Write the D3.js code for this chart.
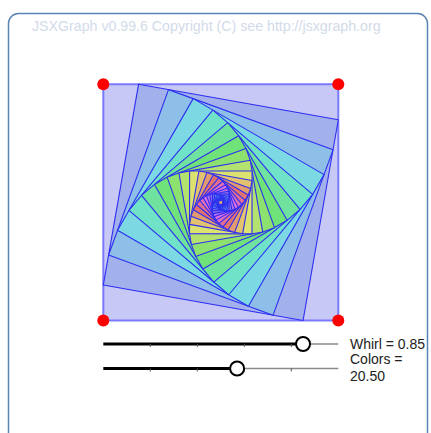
<!DOCTYPE html>
<html><head><meta charset="utf-8">
<script src="https://cdn.jsdelivr.net/npm/d3@7"></script>
<style>body{margin:0;background:#fff;}svg{display:block;}</style>
</head><body>
<svg id="c" width="431" height="433"></svg>
<script>
// ---- data ----
const corners = [[0,1],[1,1],[1,0],[0,0]];   // board coords of the four red points (TL, TR, BR, BL)
const sliderNames = ["Whirl", "Colors"];
const sliderValues = [0.85, 20.50];
const sliderMax = [1, 36];
const sliderTicks = [0.2, 0.4, 0.6, 0.8];
const levels = 28;           // number of nested polygons
const baseHue = [248];
const headerText = ["JSXGraph v0.99.6 Copyright (C) see http://jsxgraph.org"];

// ---- style ----
const lightness = [0.87, 0.78, 0.73, 0.69];  // first levels are paler, later 0.66

const svg = d3.select("#c");
const x = d3.scaleLinear().domain([0,1]).range([103.3, 338.3]);
const y = d3.scaleLinear().domain([0,1]).range([320.5, 84.3]);
const tf = "Liberation Sans, Arial, sans-serif";

// frame
svg.append("rect").attr("x",8.5).attr("y",13.5).attr("width",419).attr("height",440)
  .attr("rx",10).attr("fill","none").attr("stroke","#5b84b6").attr("stroke-width",1.5);
svg.append("text").attr("x",32).attr("y",30.5).text(headerText[0])
  .attr("font-family",tf).attr("font-size",14.2).attr("fill","#d2dbea");

// construction
const whirl = sliderValues[0], colStep = sliderValues[1];
let polys = [corners];
for (let i=1;i<=levels;i++){
  const p = polys[i-1];
  polys.push(p.map((v,j)=>{const n=p[(j+1)%4];return [v[0]+(1-whirl)*(n[0]-v[0]), v[1]+(1-whirl)*(n[1]-v[1])];}));
}
const line = d3.line().x(d=>x(d[0])).y(d=>y(d[1])).curve(d3.curveLinearClosed);
const fillFor = i => {
  if (i===0) return "#c8c8f6";
  let h = ((baseHue[0] - colStep*i) % 360 + 360) % 360;
  const L = i < lightness.length ? lightness[i] : 0.66;
  return d3.hsl(h, 0.66, L).formatHex();
};
svg.append("g").selectAll("path").data(polys).join("path")
  .attr("d", line)
  .attr("fill",(d,i)=>fillFor(i))
  .attr("stroke",(d,i)=>i===0?"#7a7aff":"#2d2df2")
  .attr("stroke-width",(d,i)=>i===0?2:1.1)
  .attr("stroke-linejoin","round");

// red points
svg.append("g").selectAll("circle").data(corners).join("circle")
  .attr("cx",d=>x(d[0])).attr("cy",d=>y(d[1])).attr("r",6).attr("fill","#ff0000");

// sliders
const sy = [344, 368.5];
sliderValues.forEach((v,k)=>{
  const sx = d3.scaleLinear().domain([0, sliderMax[k]]).range([103.3, 338.3]);
  const g = svg.append("g");
  g.append("line").attr("x1",sx(v)).attr("x2",sx(sliderMax[k])).attr("y1",sy[k]).attr("y2",sy[k])
    .attr("stroke","#8a8a8a").attr("stroke-width",1.5);
  g.append("line").attr("x1",sx(0)).attr("x2",sx(v)).attr("y1",sy[k]).attr("y2",sy[k])
    .attr("stroke","#000").attr("stroke-width",3.2);
  g.selectAll("line.t").data(sliderTicks).join("line").attr("class","t")
    .attr("x1",t=>sx(t*sliderMax[k])).attr("x2",t=>sx(t*sliderMax[k]))
    .attr("y1",sy[k]).attr("y2",sy[k]+3).attr("stroke","#555").attr("stroke-width",1);
  g.append("circle").attr("cx",sx(v)).attr("cy",sy[k]).attr("r",7)
    .attr("fill","#fff").attr("stroke","#000").attr("stroke-width",2);
});
svg.append("text").attr("x",350).attr("y",348.5).text(sliderNames[0]+" = "+sliderValues[0].toFixed(2))
  .attr("font-family",tf).attr("font-size",14).attr("fill","#222");
svg.append("text").attr("x",350).attr("y",364).text(sliderNames[1]+" =")
  .attr("font-family",tf).attr("font-size",14).attr("fill","#222");
svg.append("text").attr("x",350).attr("y",380.5).text(sliderValues[1].toFixed(2))
  .attr("font-family",tf).attr("font-size",14).attr("fill","#222");
</script>
</body></html>
